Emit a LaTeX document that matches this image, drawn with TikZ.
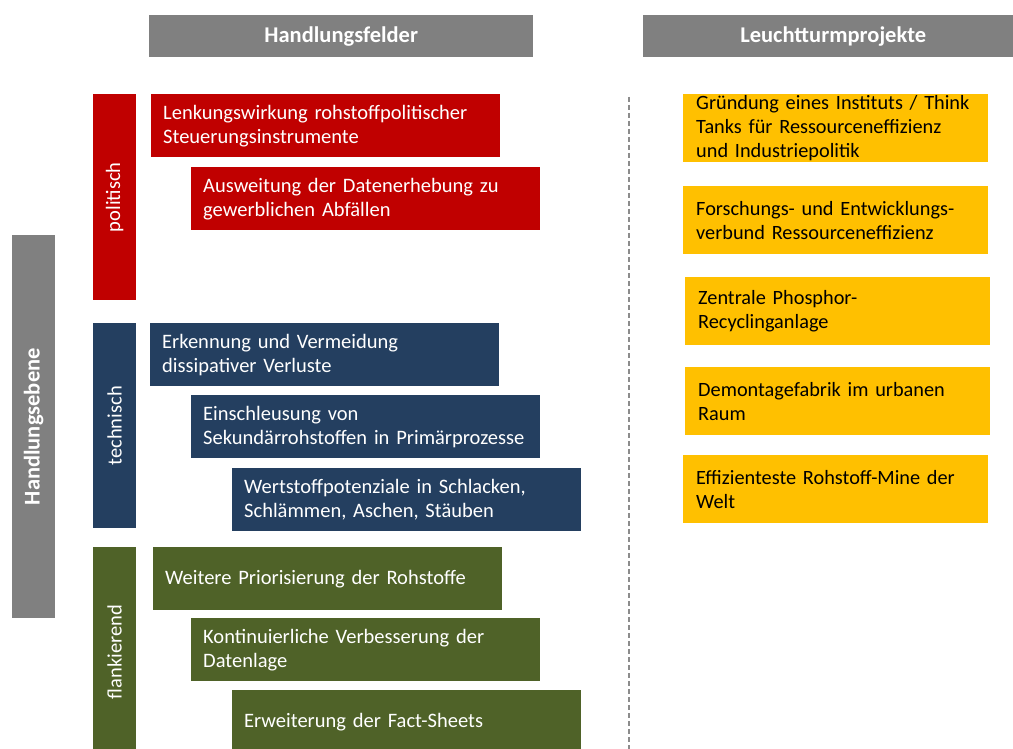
\documentclass[tikz,border=0pt]{standalone}
\usepackage{fontspec}
\setmainfont{Carlito}
\definecolor{hgrey}{HTML}{808080}
\definecolor{pred}{HTML}{C00000}
\definecolor{tblue}{HTML}{243F60}
\definecolor{fgreen}{HTML}{4F6228}
\definecolor{pyellow}{HTML}{FFC000}
\definecolor{dashgrey}{HTML}{8C8C8C}
\tikzset{
  hdr/.style={fill=hgrey, text=white, font=\fontsize{22.5}{26}\selectfont\bfseries, anchor=north west, inner sep=0pt, minimum height=42pt},
  vbar/.style={anchor=north west, inner sep=0pt, minimum width=43pt},
  vlabel/.style={text=white, rotate=90, font=\fontsize{20.5}{24}\selectfont, inner sep=0pt},
  field/.style={anchor=north west, text=white, font=\fontsize{20.5}{24}\selectfont, align=left, inner xsep=12pt, inner ysep=0pt, text width=325pt, minimum width=349pt, minimum height=63pt},
  proj/.style={anchor=north west, fill=pyellow, text=black, font=\fontsize{20.3}{24}\selectfont, align=left, inner xsep=13pt, inner ysep=0pt, text width=279pt, minimum width=305pt, minimum height=68pt}
}
\begin{document}
\begin{tikzpicture}[x=1pt,y=-1pt]
\useasboundingbox (0,0) rectangle (1013,749);
\clip (0,0) rectangle (1013,749);
% headers
\node[hdr, minimum width=384pt] (hf) at (149,15) {Handlungsfelder};
\node[hdr, minimum width=380pt] (lp) at (643,15) {Leuchtturmprojekte};
% Handlungsebene bar
\node[vbar, fill=hgrey, minimum height=383pt] (he) at (12,235) {};
\node[vlabel, font=\fontsize{22.5}{26}\selectfont\bfseries] (helab) at (he.center) {Handlungsebene};
% politisch
\node[vbar, fill=pred, minimum height=206pt] (pol) at (93,94) {};
\node[vlabel] (pollab) at (pol.center) {politisch};
\node[field, fill=pred] (p1) at (151,94) {Lenkungswirkung rohstoffpolitischer\\Steuerungsinstrumente};
\node[field, fill=pred] (p2) at (191,167) {Ausweitung der Datenerhebung zu\\gewerblichen Abfällen};
% technisch
\node[vbar, fill=tblue, minimum height=205pt] (tec) at (93,323) {};
\node[vlabel] (teclab) at (tec.center) {technisch};
\node[field, fill=tblue] (t1) at (150,323) {Erkennung und Vermeidung\\dissipativer Verluste};
\node[field, fill=tblue] (t2) at (191,395) {Einschleusung von\\Sekundärrohstoffen in Primärprozesse};
\node[field, fill=tblue] (t3) at (232,468) {Wertstoffpotenziale in Schlacken,\\Schlämmen, Aschen, Stäuben};
% flankierend
\node[vbar, fill=fgreen, minimum height=210pt] (fla) at (93,547) {};
\node[vlabel] (flalab) at (fla.center) {flankierend};
\node[field, fill=fgreen] (f1) at (153,547) {Weitere Priorisierung der Rohstoffe};
\node[field, fill=fgreen] (f2) at (191,618) {Kontinuierliche Verbesserung der\\Datenlage};
\node[field, fill=fgreen] (f3) at (232,690) {Erweiterung der Fact-Sheets};
% dashed separator
\coordinate (dtop) at (629,97);
\coordinate (dbot) at (629,749);
\draw[dashgrey, line width=1.6pt, dash pattern=on 5pt off 3pt] (dtop) -- (dbot);
% projects
\node[proj] (y1) at (683,94) {Gründung eines Instituts / Think\\Tanks für Ressourceneffizienz\\und Industriepolitik};
\node[proj] (y2) at (683,186) {Forschungs- und Entwicklungs-\\verbund Ressourceneffizienz};
\node[proj] (y3) at (685,277) {Zentrale Phosphor-\\Recyclinganlage};
\node[proj] (y4) at (685,367) {Demontagefabrik im urbanen\\Raum};
\node[proj] (y5) at (683,455) {Effizienteste Rohstoff-Mine der\\Welt};
\end{tikzpicture}
\end{document}
